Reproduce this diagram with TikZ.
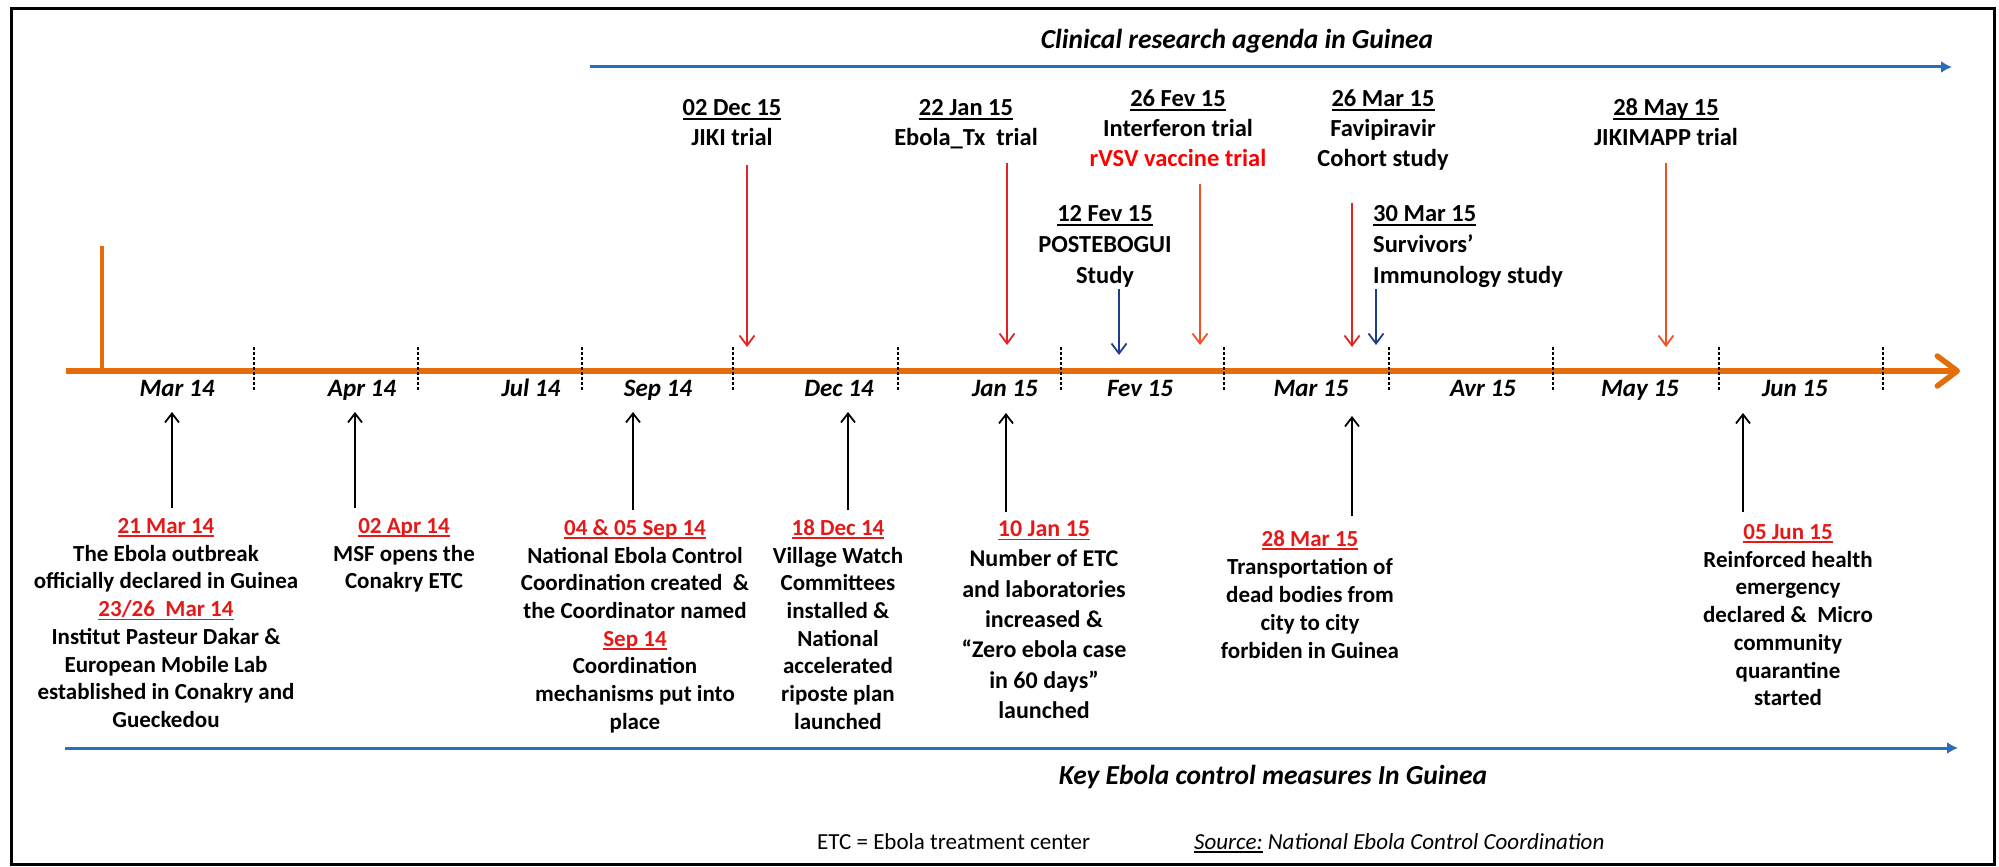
\documentclass[tikz,border=0pt]{standalone}
\usepackage{fontspec}
\setmainfont{Carlito}
\usetikzlibrary{arrows.meta}
\definecolor{tlorange}{RGB}{228,108,10}
\definecolor{dred}{RGB}{230,25,25}
\definecolor{ared}{RGB}{225,35,35}
\definecolor{aorange}{RGB}{240,80,35}
\definecolor{lblue}{RGB}{40,110,185}
\definecolor{dblue}{RGB}{30,60,140}
\newcommand{\myul}[1]{\setbox0=\hbox{#1}\rlap{\rule[-0.16em]{\wd0}{0.08em}}\box0\relax}
\newcommand{\rd}[1]{\textcolor{dred}{\myul{#1}}}
\begin{document}
\begin{tikzpicture}[x=1pt,y=-1pt,
  lbl/.style={inner sep=0pt, align=center, anchor=north, font=\bfseries\fontsize{23}{27.7}\selectfont, execute at begin node=\rule{0pt}{0.7em}},
  lblE/.style={lbl, font=\bfseries\fontsize{24}{30.3}\selectfont},
  toplbl/.style={inner sep=0pt, align=center, anchor=north, font=\bfseries\fontsize{24.5}{30}\selectfont, execute at begin node=\rule{0pt}{0.7em}},
  month/.style={inner sep=0pt, anchor=base, font=\bfseries\itshape\fontsize{25}{30}\selectfont},
  heading/.style={inner sep=0pt, anchor=base, font=\bfseries\itshape\fontsize{27.5}{32}\selectfont},
  note/.style={inner sep=0pt, anchor=base west, font=\fontsize{23}{28}\selectfont},
  tick/.style={line width=1.3pt, black, dash pattern=on 3pt off 2pt},
  uparr/.style={line width=1.8pt, black, -{Straight Barb[length=9pt,width=14pt,line width=1.8pt]}},
  redarr/.style={line width=1.8pt, ared, -{Straight Barb[length=10pt,width=15pt,line width=1.8pt]}},
  orarr/.style={redarr, aorange},
  bluearr/.style={redarr, dblue},
  bline/.style={line width=3pt, lblue, -{Latex[length=11pt,width=12pt]}},
  tl/.style={line width=6.5pt, tlorange, -{Straight Barb[length=20pt,width=30pt,line width=5.5pt,round]}}
]
\useasboundingbox (0,0) rectangle (1999,867);
\draw[line width=3pt] (11,9) rectangle (1994,864);

% top heading and blue line
\node[heading] (title) at (1237,48.5) {Clinical research agenda in Guinea};
\coordinate (tb0) at (590,67); \coordinate (tb1) at (1952,67);
\draw[bline] (tb0) -- (tb1);

% timeline
\coordinate (tlS) at (66,371); \coordinate (tlE) at (1960,371);
\coordinate (stT) at (102,246); \coordinate (stB) at (102,371);
\draw[line width=4pt, tlorange] (stT) -- (stB);
\draw[tl] (tlS) -- (tlE);
\foreach \x [count=\i] in {254,418,582,733,898,1061,1224,1389,1553,1719,1883}{
  \coordinate (tk\i a) at (\x,347); \coordinate (tk\i b) at (\x,390);
  \draw[tick] (tk\i a) -- (tk\i b);
}

% month labels
\node[month] (m1) at (177,396) {Mar 14};
\node[month] (m2) at (362,396) {Apr 14};
\node[month] (m3) at (531,396) {Jul 14};
\node[month] (m4) at (658,396) {Sep 14};
\node[month] (m5) at (839,396) {Dec 14};
\node[month] (m6) at (1005,396) {Jan 15};
\node[month] (m7) at (1140,396) {Fev 15};
\node[month] (m8) at (1311,396) {Mar 15};
\node[month] (m9) at (1483,396) {Avr 15};
\node[month] (m10) at (1640,396) {May 15};
\node[month] (m11) at (1795,396) {Jun 15};

% top research labels
\node[toplbl] (r1) at (732,99.7) {\myul{02 Dec 15}\\JIKI trial};
\node[toplbl] (r2) at (966,99.7) {\myul{22 Jan 15}\\Ebola\_Tx\ \ trial};
\node[toplbl] (r3) at (1178,89.7) {\myul{26 Fev 15}\\Interferon trial\\\textcolor{red}{rVSV vaccine trial}};
\node[toplbl] (r4) at (1383,89.7) {\myul{26 Mar 15}\\Favipiravir\\Cohort study};
\node[toplbl] (r5) at (1666,98.7) {\myul{28 May 15}\\JIKIMAPP trial};
\node[toplbl, font=\bfseries\fontsize{24.5}{31}\selectfont] (r6) at (1105,205.7) {\myul{12 Fev 15}\\POSTEBOGUI\\Study};
\node[toplbl, font=\bfseries\fontsize{24.5}{31}\selectfont, align=left, anchor=north west] (r7) at (1373,205.7) {\myul{30 Mar 15}\\Survivors’\\Immunology study};

% top arrows
\coordinate (a1s) at (747,165);  \coordinate (a1e) at (747,347);
\coordinate (a2s) at (1007,163); \coordinate (a2e) at (1007,345);
\coordinate (a3s) at (1200,184); \coordinate (a3e) at (1200,345);
\coordinate (a4s) at (1352,203); \coordinate (a4e) at (1352,347);
\coordinate (a5s) at (1666,163); \coordinate (a5e) at (1666,347);
\coordinate (a6s) at (1119,289); \coordinate (a6e) at (1119,355);
\coordinate (a7s) at (1376,289); \coordinate (a7e) at (1376,345);
\draw[redarr] (a1s) -- (a1e);
\draw[redarr] (a2s) -- (a2e);
\draw[orarr] (a3s) -- (a3e);
\draw[redarr] (a4s) -- (a4e);
\draw[orarr] (a5s) -- (a5e);
\draw[bluearr] (a6s) -- (a6e);
\draw[bluearr] (a7s) -- (a7e);

% bottom control measures
\node[lbl] (c1) at (166,518.3) {\rd{21 Mar 14}\\The Ebola outbreak\\officially declared in Guinea\\\rd{23/26\ \ Mar 14}\\Institut Pasteur Dakar \&\\European Mobile Lab\\established in Conakry and\\Gueckedou};
\node[lbl] (c2) at (404,518.3) {\rd{02 Apr 14}\\MSF opens the\\Conakry ETC};
\node[lbl] (c3) at (635,519.3) {\rd{04 \& 05 Sep 14}\\National Ebola Control\\Coordination created\ \ \&\\the Coordinator named\\\rd{Sep 14}\\Coordination\\mechanisms put into\\place};
\node[lbl] (c4) at (838,519.3) {\rd{18 Dec 14}\\Village Watch\\Committees\\installed \&\\National\\accelerated\\riposte plan\\launched};
\node[lblE] (c5) at (1044,520.7) {\rd{10 Jan 15}\\Number of ETC\\and laboratories\\increased \&\\“Zero ebola case\\in 60 days”\\launched};
\node[lbl, font=\bfseries\fontsize{23}{28}\selectfont] (c6) at (1310,530.3) {\rd{28 Mar 15}\\Transportation of\\dead bodies from\\city to city\\forbiden in Guinea};
\node[lbl] (c7) at (1788,524.3) {\rd{05 Jun 15}\\Reinforced health\\emergency\\declared \&\ \ Micro\\community\\quarantine\\started};

% up arrows
\coordinate (u1s) at (172,508);  \coordinate (u1e) at (172,412);
\coordinate (u2s) at (355,508);  \coordinate (u2e) at (355,412);
\coordinate (u3s) at (633,510);  \coordinate (u3e) at (633,412);
\coordinate (u4s) at (848,510);  \coordinate (u4e) at (848,412);
\coordinate (u5s) at (1006,512); \coordinate (u5e) at (1006,413);
\coordinate (u6s) at (1352,516); \coordinate (u6e) at (1352,416);
\coordinate (u7s) at (1743,512); \coordinate (u7e) at (1743,413);
\foreach \i in {1,...,7}{\draw[uparr] (u\i s) -- (u\i e);}

% bottom blue line and captions
\coordinate (bb0) at (65,748); \coordinate (bb1) at (1958,748);
\draw[bline] (bb0) -- (bb1);
\node[heading] (keyt) at (1273,784.5) {Key Ebola control measures In Guinea};
\node[note] (etc) at (817,849.5) {ETC = Ebola treatment center};
\node[note, font=\itshape\fontsize{23}{28}\selectfont] (src) at (1194,849.5) {\myul{Source:} National Ebola Control Coordination};
\end{tikzpicture}
\end{document}
